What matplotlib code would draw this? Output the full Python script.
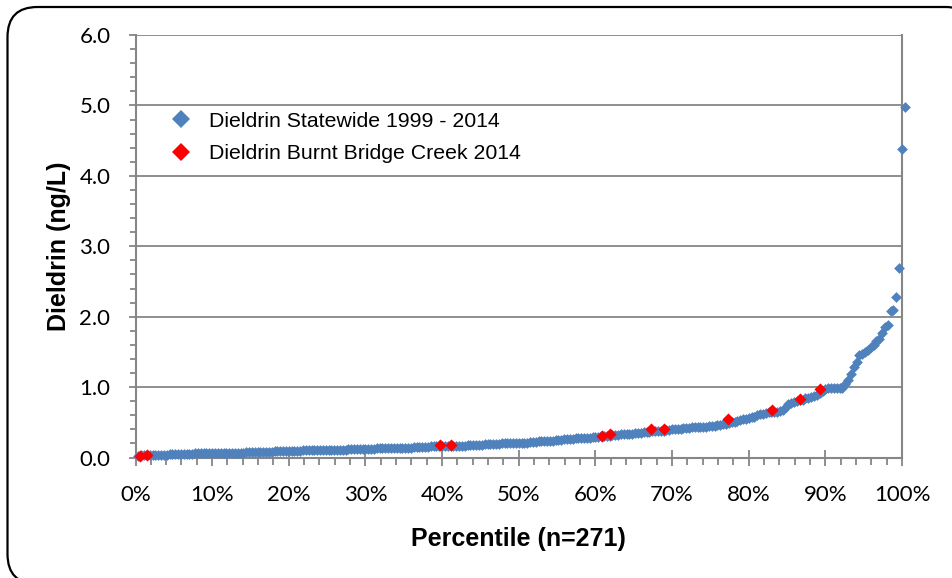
import numpy as np
import matplotlib
matplotlib.use("Agg")
import matplotlib.pyplot as plt
from matplotlib.patches import FancyBboxPatch
from matplotlib.lines import Line2D
from matplotlib.ticker import MultipleLocator, FuncFormatter

# ---------------- data ----------------
n_statewide = 271
statewide = [
    0.02, 0.03, 0.03, 0.03, 0.03, 0.04, 0.04, 0.04, 0.04, 0.04,
    0.04, 0.05, 0.05, 0.05, 0.05, 0.05, 0.05, 0.05, 0.05, 0.05,
    0.06, 0.06, 0.06, 0.06, 0.06, 0.06, 0.06,
    0.06, 0.06, 0.06, 0.07, 0.07, 0.07, 0.07, 0.07, 0.07, 0.07,
    0.07, 0.08, 0.08, 0.08, 0.08, 0.08, 0.08, 0.08, 0.08, 0.08,
    0.08, 0.09, 0.09, 0.09, 0.09, 0.09, 0.09,
    0.09, 0.09, 0.09, 0.09, 0.10, 0.10, 0.10, 0.10, 0.10, 0.10,
    0.10, 0.10, 0.11, 0.11, 0.11, 0.11, 0.11, 0.11, 0.11, 0.11,
    0.12, 0.12, 0.12, 0.12, 0.12, 0.12, 0.12,
    0.12, 0.12, 0.12, 0.13, 0.13, 0.13, 0.13, 0.13, 0.13, 0.13,
    0.14, 0.14, 0.14, 0.14, 0.14, 0.14, 0.15, 0.15, 0.15, 0.15,
    0.15, 0.15, 0.16, 0.16, 0.16, 0.16, 0.16,
    0.16, 0.17, 0.17, 0.17, 0.17, 0.17, 0.17, 0.17, 0.18, 0.18,
    0.18, 0.18, 0.18, 0.18, 0.19, 0.19, 0.19, 0.19, 0.19, 0.19,
    0.20, 0.20, 0.20, 0.20, 0.20, 0.20, 0.21,
    0.21, 0.21, 0.21, 0.22, 0.22, 0.22, 0.23, 0.23, 0.23, 0.24,
    0.24, 0.24, 0.25, 0.25, 0.25, 0.26, 0.26, 0.26, 0.26, 0.27,
    0.27, 0.27, 0.28, 0.28, 0.28, 0.29, 0.29,
    0.29, 0.30, 0.30, 0.31, 0.31, 0.32, 0.32, 0.32, 0.33, 0.33,
    0.34, 0.34, 0.34, 0.35, 0.35, 0.35, 0.36, 0.36, 0.36, 0.37,
    0.37, 0.38, 0.38, 0.38, 0.39, 0.39, 0.40,
    0.40, 0.41, 0.41, 0.42, 0.42, 0.42, 0.43, 0.43, 0.43, 0.44,
    0.44, 0.44, 0.45, 0.45, 0.45, 0.46, 0.46, 0.47, 0.48, 0.49,
    0.50, 0.51, 0.52, 0.53, 0.54, 0.55, 0.56,
    0.57, 0.58, 0.61, 0.62, 0.62, 0.63, 0.64, 0.64, 0.65, 0.65,
    0.66, 0.68, 0.72, 0.76, 0.78, 0.79, 0.80, 0.81, 0.82, 0.84,
    0.85, 0.86, 0.87, 0.89, 0.92, 0.95, 0.97,
    0.98, 0.98, 0.98, 0.98, 0.98, 0.99, 1.05, 1.10, 1.18, 1.28,
    1.36, 1.45, 1.47, 1.50, 1.53, 1.57, 1.60, 1.65, 1.68, 1.77,
    1.85, 1.88, 2.08, 2.09, 2.28, 2.69, 4.38, 4.98,
]
# percentile rank of each statewide sample
statewide_pct = np.arange(1, n_statewide + 1) / (n_statewide - 1)

bbc_pct = [0.006, 0.015, 0.397, 0.411, 0.609, 0.619, 0.672, 0.690,
           0.773, 0.831, 0.867, 0.893]
bbc_val = [0.02, 0.04, 0.18, 0.18, 0.31, 0.34, 0.40, 0.40,
           0.54, 0.68, 0.83, 0.97]

label_statewide = "Dieldrin Statewide 1999 - 2014"
label_bbc = "Dieldrin Burnt Bridge Creek 2014"
x_label = "Percentile (n=271)"
y_label = "Dieldrin (ng/L)"

# ---------------- figure ----------------
W, H = 953, 578
fig = plt.figure(figsize=(W / 100, H / 100), dpi=100)
fig.patch.set_facecolor("white")

# rounded border (inch coordinates, isotropic); filled so it is not path-clipped
border = FancyBboxPatch((0.075, -0.06), 9.68, 5.77,
                        boxstyle="round,pad=0,rounding_size=0.30",
                        transform=fig.dpi_scale_trans, zorder=-5,
                        facecolor="white", edgecolor="black", linewidth=1.6)
fig.add_artist(border)

ax = fig.add_axes([135.5 / W, 1 - 457.5 / H, (902 - 135.5) / W, (457.5 - 35) / H])

gray = "#868686"
blue = "#4F81BD"
red = "#FF0000"

ax.scatter(statewide_pct, statewide, marker="D", s=30, color=blue,
           linewidths=0, zorder=3, clip_on=False)
ax.scatter(bbc_pct, bbc_val, marker="D", s=38, color=red,
           linewidths=0, zorder=4, clip_on=False)

ax.set_xlim(0, 1)
ax.set_ylim(0, 6)

ax.xaxis.set_major_locator(MultipleLocator(0.1))
ax.xaxis.set_minor_locator(MultipleLocator(0.02))
ax.yaxis.set_major_locator(MultipleLocator(1.0))
ax.yaxis.set_minor_locator(MultipleLocator(0.2))
ax.xaxis.set_major_formatter(FuncFormatter(lambda v, p: f"{v*100:.0f}%"))
ax.yaxis.set_major_formatter(FuncFormatter(lambda v, p: f"{v:.1f}"))

ax.grid(axis="y", which="major", color=gray, linewidth=1.3, zorder=0)
ax.set_axisbelow(True)

for side in ["left", "bottom", "right"]:
    ax.spines[side].set_color(gray)
    ax.spines[side].set_linewidth(1.5)
ax.spines["top"].set_visible(False)

tick_font = "Lato"
ax.tick_params(axis="x", which="major", direction="inout", length=11.5,
               width=1.3, color=gray, pad=14, labelsize=16)
ax.tick_params(axis="x", which="minor", direction="out", length=5,
               width=1.3, color=gray)
ax.tick_params(axis="y", which="major", direction="out", length=5,
               width=1.3, color=gray, pad=13, labelsize=16)
ax.tick_params(axis="y", which="minor", direction="out", length=4.5,
               width=1.3, color=gray)
for lab in ax.get_xticklabels() + ax.get_yticklabels():
    lab.set_fontfamily(tick_font)

ax.set_xlabel(x_label, fontfamily="Liberation Sans", fontweight="bold",
              fontsize=18, labelpad=16)
ax.set_ylabel(y_label, fontfamily="Liberation Sans", fontweight="bold",
              fontsize=18, labelpad=6)

handles = [
    Line2D([], [], linestyle="none", marker="D", markersize=8.8,
           markerfacecolor=blue, markeredgewidth=0, label=label_statewide),
    Line2D([], [], linestyle="none", marker="D", markersize=8.8,
           markerfacecolor=red, markeredgewidth=0, label=label_bbc),
]
leg = ax.legend(handles=handles, loc="upper left",
                bbox_to_anchor=(0.043, 0.818),
                frameon=False, prop={"family": "Liberation Sans", "size": 15.3},
                handlelength=1.2, handletextpad=0.7, labelspacing=0.62,
                borderaxespad=0, borderpad=0)

fig.savefig("out.png", dpi=100)
